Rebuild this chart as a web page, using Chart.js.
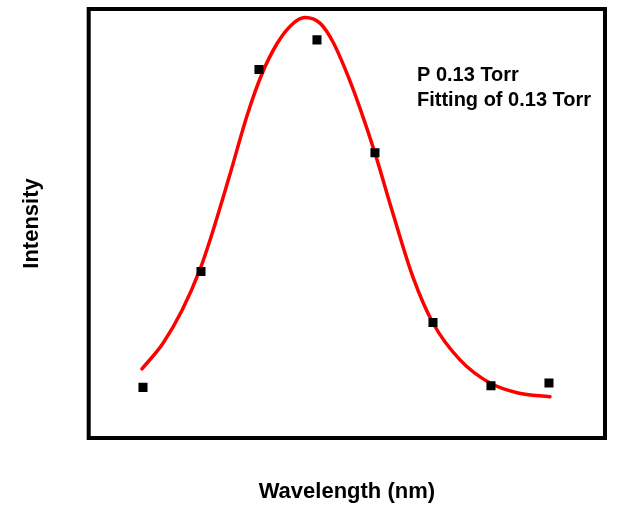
<!DOCTYPE html>
<html>
<head>
<meta charset="utf-8">
<script src="https://cdn.jsdelivr.net/npm/chart.js@4/dist/chart.umd.min.js"></script>
<style>
  html, body { margin: 0; padding: 0; background: #fff; }
  #wrap { width: 632px; height: 508px; }
</style>
</head>
<body>
<div id="wrap"><canvas id="c" width="632" height="508"></canvas></div>
<script>
// ---------- datos (unidades arbitrarias) ----------
const pointX = [1, 2, 3, 4, 5, 6, 7, 8];
const pointY = [0.118, 0.388, 0.859, 0.928, 0.665, 0.269, 0.122, 0.128];

const fitX = [0.983, 1.345, 1.672, 1.983, 2.155, 2.483, 2.81, 3.052, 3.31, 3.569, 3.793, 4.052, 4.276, 4.534, 4.741, 5.0, 5.293, 5.655, 6.0, 6.466, 6.983, 7.466, 8.017];
const fitY = [0.161, 0.221, 0.297, 0.393, 0.461, 0.607, 0.758, 0.849, 0.919, 0.964, 0.980, 0.967, 0.923, 0.844, 0.769, 0.664, 0.531, 0.375, 0.268, 0.182, 0.128, 0.105, 0.096];

const labels = ["P 0.13 Torr", "Fitting of 0.13 Torr"];

const FONT = '"Liberation Sans", Arial, Helvetica, sans-serif';

function zip(xs, ys){ return xs.map((x,i)=>({x, y: ys[i]})); }

// marco negro alrededor del área del gráfico
const framePlugin = {
  id: 'frame',
  afterDraw(chart){
    const {ctx, chartArea: a} = chart;
    ctx.save();
    ctx.strokeStyle = '#000';
    ctx.lineWidth = 4;
    ctx.strokeRect(a.left, a.top, a.right - a.left, a.bottom - a.top);
    ctx.restore();
  }
};

// leyenda solo texto, como en la figura
const textLegend = {
  id: 'textLegend',
  afterDraw(chart){
    const {ctx} = chart;
    ctx.save();
    ctx.fillStyle = '#000';
    ctx.font = 'bold 20px ' + FONT;
    ctx.textBaseline = 'middle';
    ctx.textAlign = 'left';
    chart.data.datasets.forEach((ds, i) => {
      ctx.fillText(ds.label, 417, 75 + i * 25);
    });
    ctx.restore();
  }
};

new Chart(document.getElementById('c'), {
  type: 'scatter',
  data: {
    datasets: [
      {
        label: labels[0],
        data: zip(pointX, pointY),
        pointStyle: 'rect',
        pointRadius: 6.4,
        pointBackgroundColor: '#000',
        pointBorderWidth: 0,
        showLine: false,
        order: 1
      },
      {
        label: labels[1],
        data: zip(fitX, fitY),
        showLine: true,
        borderColor: '#ff0000',
        borderWidth: 3.5,
        borderCapStyle: 'round',
        pointRadius: 0,
        cubicInterpolationMode: 'monotone',
        order: 2
      }
    ]
  },
  options: {
    responsive: false,
    animation: false,
    layout: { padding: { top: 9, right: 27, bottom: 0, left: 0 } },
    plugins: { legend: { display: false }, tooltip: { enabled: false } },
    scales: {
      x: {
        type: 'linear', min: 0.064, max: 8.966,
        grid: { display: false, drawTicks: false },
        border: { display: false },
        ticks: { display: false },
        title: {
          display: true, text: 'Wavelength (nm)', color: '#000',
          font: { family: FONT, size: 22, weight: 'bold' },
          padding: { top: 40.8, bottom: 2.8 }
        }
      },
      y: {
        type: 'linear', min: 0, max: 1,
        grid: { display: false, drawTicks: false },
        border: { display: false },
        ticks: { display: false },
        title: {
          display: true, text: 'Intensity', color: '#000',
          font: { family: FONT, size: 22, weight: 'bold' },
          padding: { top: 18.8, bottom: 43.5 }
        }
      }
    }
  },
  plugins: [framePlugin, textLegend]
});
</script>
</body>
</html>
